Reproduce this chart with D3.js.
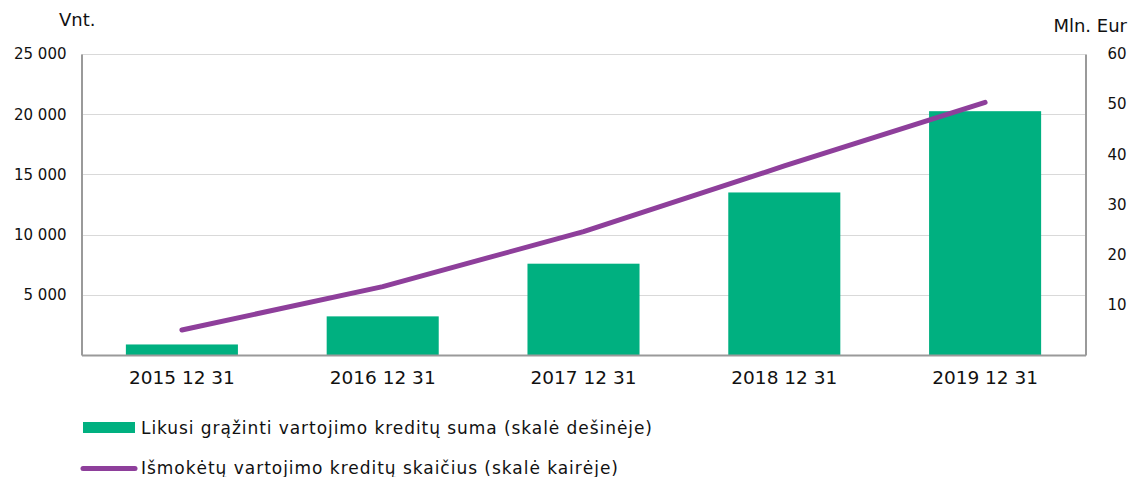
<!DOCTYPE html>
<html><head><meta charset="utf-8">
<script src="https://cdn.jsdelivr.net/npm/d3@7"></script>
<style>body{margin:0;background:#fff}svg{display:block;font-family:"DejaVu Sans",Verdana,sans-serif}</style>
</head><body>
<svg id="c" width="1130" height="477"></svg>
<script>
const categories = ["2015 12 31","2016 12 31","2017 12 31","2018 12 31","2019 12 31"];
const amountMlnEur = [2.1, 7.7, 18.2, 32.4, 48.6];      // bars, right scale
const countVnt = [2080, 5680, 10250, 15700, 20980];      // line, left scale
const leftTicks = [5000, 10000, 15000, 20000, 25000];
const rightTicks = [10, 20, 30, 40, 50, 60];
const legendLabels = ["Likusi grąžinti vartojimo kreditų suma (skalė dešinėje)","Išmokėtų vartojimo kreditų skaičius (skalė kairėje)"];

const green = "#00b080", purple = "#8e3f9b";
const svg = d3.select("#c");
const L = 81.5, R = 1085.5, T = 54, B = 355;
const x = d3.scaleBand().domain(categories).range([L, R]).paddingInner(0.442).paddingOuter(0.221);
const yL = d3.scaleLinear().domain([0, 25000]).range([B, T]);
const yR = d3.scaleLinear().domain([0, 60]).range([B, T]);
const fmt = d => d3.format(",")(d).replace(/,/g, " ");

// gridlines
svg.append("g").selectAll("line").data(leftTicks).join("line")
  .attr("x1", L).attr("x2", R).attr("y1", d => Math.round(yL(d)) + 0.5).attr("y2", d => Math.round(yL(d)) + 0.5)
  .attr("stroke", "#d9d9d9").attr("stroke-width", 1);

// bars
svg.append("g").selectAll("rect").data(amountMlnEur).join("rect")
  .attr("x", (d, i) => x(categories[i])).attr("width", x.bandwidth())
  .attr("y", d => yR(d)).attr("height", d => B - yR(d)).attr("fill", green);

// axes
const axL = svg.append("g").attr("transform", `translate(${L},0)`)
  .call(d3.axisLeft(yL).tickValues(leftTicks).tickFormat(fmt).tickSize(0).tickPadding(15));
const axR = svg.append("g").attr("transform", `translate(${R},0)`)
  .call(d3.axisRight(yR).tickValues(rightTicks).tickSize(0).tickPadding(22));
const axB = svg.append("g").attr("transform", `translate(0,${B})`)
  .call(d3.axisBottom(x).tickSize(0).tickPadding(16));
[axL, axR].forEach(a => {
  a.select(".domain").attr("stroke", "#9a9a9a").attr("stroke-width", 2);
  a.selectAll("text").attr("font-size", 15).attr("fill", "#111").attr("font-family", "DejaVu Sans");
});
axB.select(".domain").attr("stroke", "#9a9a9a").attr("stroke-width", 2);
axB.selectAll("text").attr("font-size", 18.5).attr("fill", "#111").attr("font-family", "DejaVu Sans");

// line
const line = d3.line().x((d, i) => x(categories[i]) + x.bandwidth() / 2).y(d => yL(d));
svg.append("path").datum(countVnt).attr("d", line).attr("fill", "none")
  .attr("stroke", purple).attr("stroke-width", 5).attr("stroke-linecap", "round").attr("stroke-linejoin", "round");

// axis titles
svg.append("text").attr("x", 59).attr("y", 26).attr("font-size", 18).attr("fill", "#111").text("Vnt.");
svg.append("text").attr("x", 1127).attr("y", 31.5).attr("text-anchor", "end").attr("font-size", 18).attr("fill", "#111").text("Mln. Eur");

// legend
svg.append("rect").attr("x", 83).attr("y", 422).attr("width", 52).attr("height", 11).attr("fill", green);
svg.append("text").attr("x", 141).attr("y", 434.3).attr("font-size", 17).attr("fill", "#111")
  .attr("textLength", 511).attr("lengthAdjust", "spacing").text(legendLabels[0]);
svg.append("line").attr("x1", 83).attr("x2", 135).attr("y1", 468.5).attr("y2", 468.5)
  .attr("stroke", purple).attr("stroke-width", 5).attr("stroke-linecap", "round");
svg.append("text").attr("x", 141).attr("y", 473.7).attr("font-size", 17).attr("fill", "#111")
  .attr("textLength", 477).attr("lengthAdjust", "spacing").text(legendLabels[1]);
</script>
</body></html>
